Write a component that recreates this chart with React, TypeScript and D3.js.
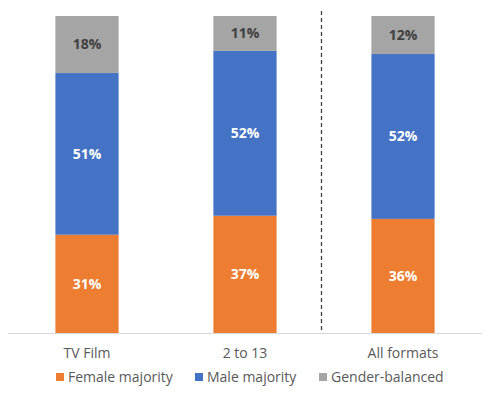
import React from "react";
import * as d3 from "d3";

const categories = ["TV Film", "2 to 13", "All formats"];
const seriesNames = ["Female majority", "Male majority", "Gender-balanced"];
const female = [31, 37, 36];
const male = [51, 52, 52];
const balanced = [18, 11, 12];
const colors = ["#ED7D31", "#4472C4", "#A5A5A5"];
const labelColors = ["#FFFFFF", "#FFFFFF", "#404040"];

const W = 491;
const H = 396;
const FONT = "'Open Sans', sans-serif";

export default function App() {
  const x = d3.scaleBand<string>().domain(categories).range([8, 482]).paddingInner(0.6).paddingOuter(0.3);
  const y = d3.scaleLinear().domain([0, 100]).range([333, 16]);
  const rows = categories.map((c, i) => ({ cat: c, f: female[i], m: male[i], b: balanced[i] }));
  const stack = d3.stack<any>().keys(["f", "m", "b"])(rows);
  const dashX = 321.5;

  const legendX = [56, 195, 319];

  return (
    <svg width={W} height={H} style={{ position: "absolute", left: 0, top: 0 }} fontFamily={FONT}>
      <rect width={W} height={H} fill="#fff" />
      {stack.map((s, si) =>
        s.map((d, i) => {
          const y0 = y(d[0]);
          const y1 = y(d[1]);
          const xx = x(categories[i])!;
          const val = d[1] - d[0];
          return (
            <g key={`${si}-${i}`}>
              <rect x={xx} y={y1} width={x.bandwidth()} height={y0 - y1} fill={colors[si]} />
              <text
                x={xx + x.bandwidth() / 2}
                y={(y0 + y1) / 2}
                dy="0.35em"
                textAnchor="middle"
                fontSize={14}
                fontWeight="bold"
                fill={labelColors[si]}
              >
                {val}%
              </text>
            </g>
          );
        })
      )}
      <line x1={8} x2={482} y1={333.5} y2={333.5} stroke="#D9D9D9" strokeWidth={1} />
      <line x1={dashX} x2={dashX} y1={11} y2={333} stroke="#404040" strokeWidth={1.3} strokeDasharray="4,3" />
      {categories.map((c) => (
        <text key={c} x={x(c)! + x.bandwidth() / 2} y={353} dy="0.35em" textAnchor="middle" fontSize={14} fill="#595959">
          {c}
        </text>
      ))}
      {seriesNames.map((n, i) => (
        <g key={n}>
          <rect x={legendX[i]} y={373} width={8} height={8} fill={colors[i]} />
          <text x={legendX[i] + 12} y={377} dy="0.35em" fontSize={14} fill="#595959">
            {n}
          </text>
        </g>
      ))}
    </svg>
  );
}
